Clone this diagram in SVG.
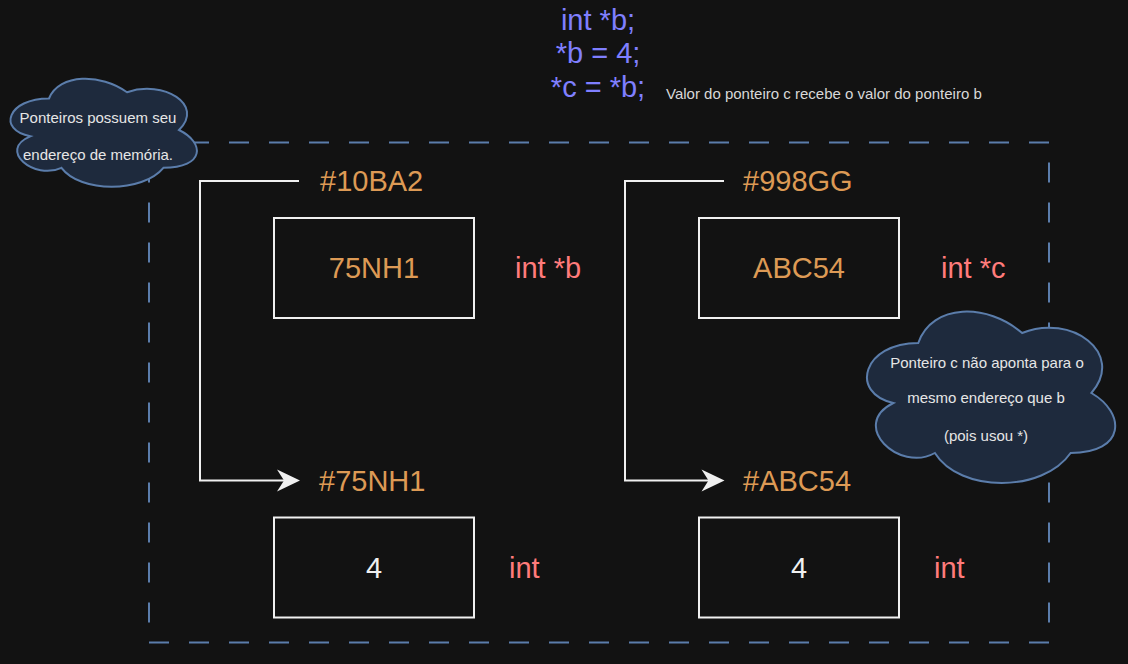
<svg xmlns="http://www.w3.org/2000/svg" width="1128" height="664" viewBox="0 0 1128 664">
<style>
.bg{fill:#121212}
.box{fill:none;stroke:#f0f0f0;stroke-width:2}
.addr{font-family:"Liberation Sans",Arial,sans-serif;font-size:29px;fill:#dd9a55}
.val{font-family:"Liberation Sans",Arial,sans-serif;font-size:29px;fill:#dd9a55;text-anchor:middle}
.num{font-family:"Liberation Sans",Arial,sans-serif;font-size:29px;fill:#f0f0f0;text-anchor:middle}
.type{font-family:"Liberation Sans",Arial,sans-serif;font-size:29px;fill:#ff7b7b}
.code{font-family:"Liberation Sans",Arial,sans-serif;font-size:29px;fill:#7f7fff;text-anchor:middle}
.note{font-family:"Liberation Sans",Arial,sans-serif;font-size:15px;fill:#d8d8d8}
.cloud{fill:#1e2a3d;stroke:#5b7dab;stroke-width:2}
.ctext{font-family:"Liberation Sans",Arial,sans-serif;font-size:15px;fill:#e6e6e6;text-anchor:middle}
.edge{fill:none;stroke:#f0f0f0;stroke-width:2}
.frame{fill:none;stroke:#5b7dab;stroke-width:2;stroke-dasharray:20 20}
</style>
<rect class="bg" x="0" y="0" width="1128" height="664"/>

<g id="frame"><rect class="frame" x="149" y="142.5" width="900" height="500"/></g>

<g id="code">
<text class="code" x="598" y="30">int *b;</text>
<text class="code" x="598" y="63">*b = 4;</text>
<text class="code" x="598" y="97">*c = *b;</text>
<text class="note" x="666" y="99">Valor do ponteiro c recebe o valor do ponteiro b</text>
</g>

<g id="connectors">
<polyline class="edge" points="299,181 200,181 200,480.5 286,480.5"/>
<polygon points="300,480.5 277,469.5 284,480.5 277,491.5" fill="#f0f0f0"/>
<polyline class="edge" points="724,181 625,181 625,480.5 710,480.5"/>
<polygon points="724.5,480.5 701.5,469.5 708.5,480.5 701.5,491.5" fill="#f0f0f0"/>
</g>

<g id="addr-10BA2"><text class="addr" x="320" y="191">#10BA2</text></g>
<g id="node-75NH1">
<rect class="box" x="274" y="218" width="200" height="100"/>
<text class="val" x="374" y="278">75NH1</text>
</g>
<g id="type-b"><text class="type" x="515" y="278">int *b</text></g>

<g id="addr-75NH1"><text class="addr" x="319" y="491">#75NH1</text></g>
<g id="node-4-left">
<rect class="box" x="274" y="517.5" width="200" height="100"/>
<text class="num" x="374" y="578">4</text>
</g>
<g id="type-int-left"><text class="type" x="509" y="578">int</text></g>

<g id="addr-998GG"><text class="addr" x="743" y="191">#998GG</text></g>
<g id="node-ABC54">
<rect class="box" x="699" y="218" width="200" height="100"/>
<text class="val" x="799" y="278">ABC54</text>
</g>
<g id="type-c"><text class="type" x="941" y="278">int *c</text></g>

<g id="addr-ABC54"><text class="addr" x="743" y="491">#ABC54</text></g>
<g id="node-4-right">
<rect class="box" x="699" y="517.5" width="200" height="100"/>
<text class="num" x="799" y="578">4</text>
</g>
<g id="type-int-right"><text class="type" x="934" y="578">int</text></g>

<g id="cloud-left">
<path class="cloud" transform="translate(-3,67) scale(208,126)" vector-effect="non-scaling-stroke" d="M0.25,0.25 C0.05,0.25 0,0.5 0.16,0.55 C0,0.66 0.18,0.9 0.31,0.8 C0.4,1 0.7,1 0.8,0.8 C1,0.8 1,0.6 0.875,0.5 C1,0.3 0.8,0.1 0.625,0.2 C0.5,0.05 0.3,0.05 0.25,0.25 Z"/>
<text class="ctext" x="98" y="123">Ponteiros possuem seu</text>
<text class="ctext" x="98" y="160">endereço de memória.</text>
</g>

<g id="cloud-right">
<path class="cloud" transform="translate(849,293) scale(277,200)" vector-effect="non-scaling-stroke" d="M0.25,0.25 C0.05,0.25 0,0.5 0.16,0.55 C0,0.66 0.18,0.9 0.31,0.8 C0.4,1 0.7,1 0.8,0.8 C1,0.8 1,0.6 0.875,0.5 C1,0.3 0.8,0.1 0.625,0.2 C0.5,0.05 0.3,0.05 0.25,0.25 Z"/>
<text class="ctext" x="987" y="368">Ponteiro c não aponta para o</text>
<text class="ctext" x="986" y="403">mesmo endereço que b</text>
<text class="ctext" x="986" y="441">(pois usou *)</text>
</g>
</svg>
